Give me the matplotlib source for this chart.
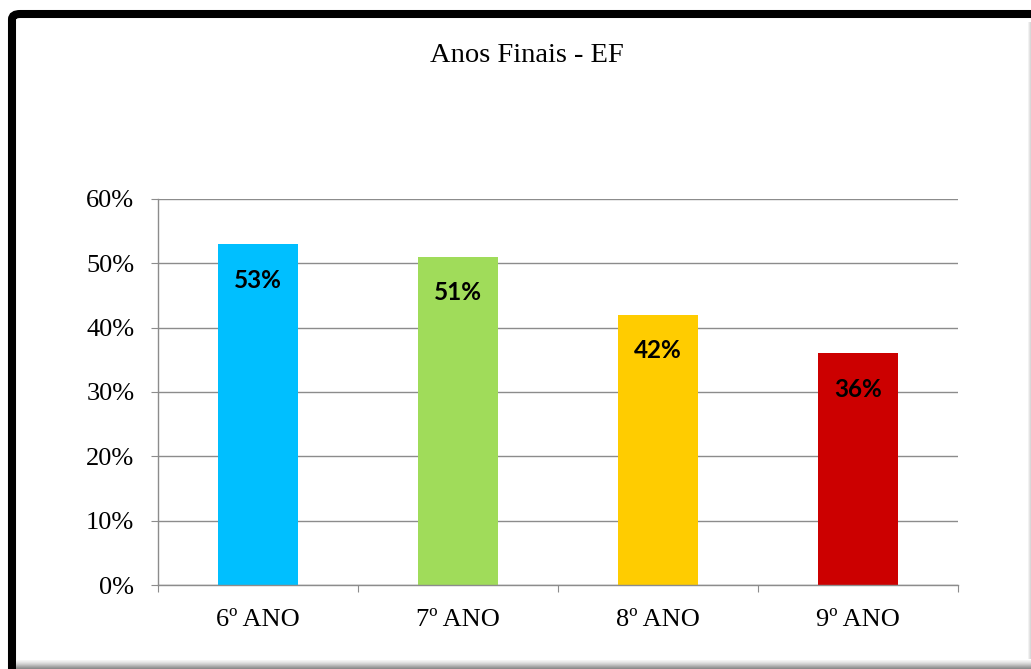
import numpy as np
import matplotlib.pyplot as plt
from matplotlib.patches import FancyBboxPatch, Rectangle
from matplotlib.ticker import PercentFormatter

categories = ["6º ANO", "7º ANO", "8º ANO", "9º ANO"]
values = [0.53, 0.51, 0.42, 0.36]
labels = ["53%", "51%", "42%", "36%"]
colors = ["#00BFFF", "#A0DC5A", "#FFCC00", "#CC0000"]
title = "Anos Finais - EF"

W, H = 1031, 669
fig = plt.figure(figsize=(W / 100, H / 100), dpi=100)

# black frame with rounded corner (runs off the right/bottom edges)
frame = FancyBboxPatch((12 / W, -30 / H), 1060 / W, (H - 14 + 30) / H,
                       boxstyle="round,pad=0,rounding_size=0.008",
                       transform=fig.transFigure, fill=False,
                       edgecolor="black", linewidth=5.8, zorder=0)
fig.patches.append(frame)
# soft inner shadow at bottom and right
shades = ["#f4f4f4", "#ececec", "#e2e2e2", "#d6d6d6", "#c8c8c8", "#b8b8b8", "#a8a8a8", "#999999", "#8c8c8c"]
for i, c in enumerate(shades):
    y0 = (9 - i) / H
    fig.patches.append(Rectangle((16 / W, y0 - 1 / H), 1, 1 / H, transform=fig.transFigure,
                                 facecolor=c, edgecolor="none", zorder=0))
for i, c in enumerate(["#f2f2f2", "#e4e4e4", "#d8d8d8"]):
    fig.patches.append(Rectangle(((1028 + i) / W, 10 / H), 1 / W, 1 - 32 / H,
                                 transform=fig.transFigure,
                                 facecolor=c, edgecolor="none", zorder=0))

ax = fig.add_axes([158 / W, 1 - 585 / H, 800 / W, 386 / H])
x = np.arange(len(categories))
bars = ax.bar(x, values, width=0.4, color=colors, zorder=2)

for b, lab in zip(bars, labels):
    ax.annotate(lab, (b.get_x() + b.get_width() / 2, b.get_height()),
                xytext=(0, -36), textcoords="offset pixels",
                ha="center", va="center", fontsize=17.5, fontweight="bold",
                family="Lato", color="black", zorder=3)

ax.set_xlim(-0.5, len(categories) - 0.5)
ax.set_ylim(0, 0.6)
ax.set_yticks(np.arange(0, 0.61, 0.1))
ax.yaxis.set_major_formatter(PercentFormatter(1.0, decimals=0))
ax.grid(axis="y", color="#8c8c8c", linewidth=1.0, zorder=1)
ax.set_axisbelow(True)

# category separators as major ticks, labels on minor ticks
ax.set_xticks(np.arange(-0.5, len(categories), 1.0))
ax.set_xticklabels([])
ax.set_xticks(x, minor=True)
ax.set_xticklabels(categories, minor=True, family="Liberation Serif", fontsize=19)
ax.tick_params(axis="x", which="major", length=5, color="#8c8c8c", direction="out")
ax.tick_params(axis="x", which="minor", length=0, pad=17)
ax.tick_params(axis="y", length=5, color="#8c8c8c", pad=12, labelsize=19)
for t in ax.get_yticklabels():
    t.set_family("Liberation Serif")

for s in ["top", "right"]:
    ax.spines[s].set_visible(False)
for s in ["left", "bottom"]:
    ax.spines[s].set_color("#8c8c8c")
    ax.spines[s].set_linewidth(1.0)

fig.text(527 / W, 1 - 55 / H, title, ha="center", va="center",
         family="Liberation Serif", fontsize=20.5)

fig.savefig("out.png", dpi=100)
